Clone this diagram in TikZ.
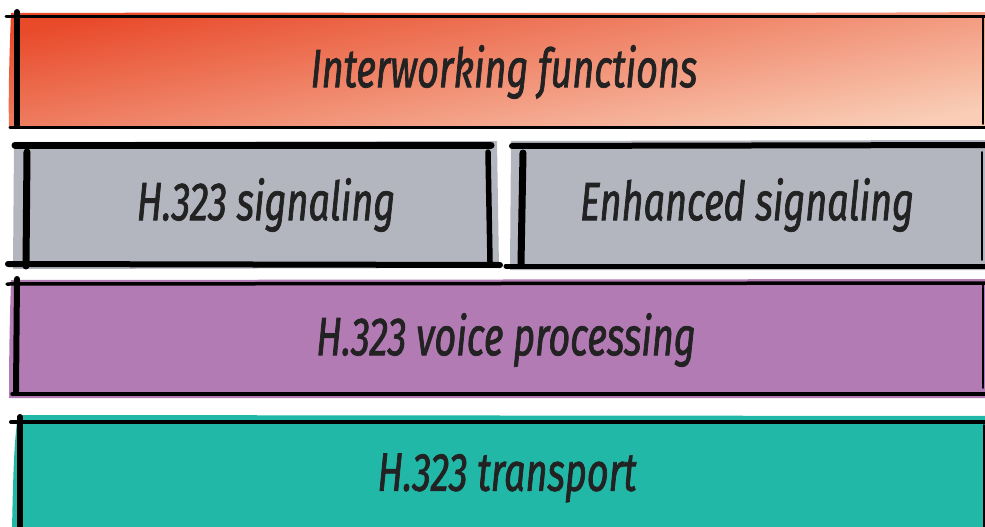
\documentclass[tikz,border=0pt]{standalone}
\usepackage{fontspec}
\setmainfont{Fira Sans}
\newfontfamily\handfont[FakeStretch=0.7,FakeBold=1.3]{Fira Sans}
\definecolor{inkc}{HTML}{222222}
\definecolor{orangeA}{HTML}{E84A2A}
\definecolor{orangeB}{HTML}{F9CDB6}
\definecolor{grayfill}{HTML}{B4B6BF}
\definecolor{purplefill}{HTML}{B27BB4}
\definecolor{tealfill}{HTML}{22B8A8}
\begin{document}
\begin{tikzpicture}[x=1pt,y=-1pt,
  lab/.style={font=\handfont\itshape\fontsize{54}{58}\selectfont, text=inkc, inner sep=0pt},
  ink/.style={draw=black, line cap=round, line join=round},
  thin/.style={ink, line width=3pt},
  thick/.style={ink, line width=6pt},
  hair/.style={ink, line width=1.8pt}]
\useasboundingbox (0,0) rectangle (985,527);

% ---- layer 1: interworking functions (gradient band)
\shade[top color=orangeA, bottom color=orangeB, shading angle=10]
  (11,13) .. controls (300,12) and (700,14) .. (990,12) -- (990,128)
  -- (9,129) .. controls (8,90) and (10,40) .. (11,13) -- cycle;
\draw[thin] (6,17) -- (990,17);
\draw[thin] (10,127) -- (990,127);
\draw[thick] (17,12) -- (17,125);
\draw[hair] (983,16) -- (983,124);

% ---- layer 2: two signaling boxes
\fill[grayfill] (14,142) -- (497,141) -- (499,268) -- (13,269) -- cycle;
\draw[ink, line width=7pt] (15,145) -- (491,145);
\draw[ink, line width=6pt] (8,264) -- (500,265);
\draw[ink, line width=7pt] (27,152) -- (26,266);
\draw[ink, line width=5.5pt] (488,152) -- (490,262);

\fill[grayfill] (511,141) -- (990,140) -- (990,270) -- (510,270) -- cycle;
\draw[ink, line width=6pt] (512,146) -- (990,145);
\draw[ink, line width=5pt] (506,266) -- (990,266);
\draw[ink, line width=7pt] (523,153) -- (521,264);
\draw[hair] (982,152) -- (982,260);

% ---- layer 3: voice processing
\fill[purplefill] (11,280) -- (990,279) -- (990,398) -- (9,398)
  .. controls (9,350) and (10,310) .. (11,280) -- cycle;
\draw[ink, line width=3.5pt] (7,284) -- (990,283);
\draw[ink, line width=3.5pt] (12,394) -- (990,394);
\draw[thick] (17,279) -- (16,391);
\draw[hair] (983,284) -- (983,388);

% ---- layer 4: transport
\fill[tealfill] (18,415) -- (990,416) -- (990,530) -- (12,530)
  .. controls (13,480) and (14,440) .. (18,415) -- cycle;
\draw[ink, line width=4pt] (11,422) -- (990,422);
\draw[thick] (20,417) -- (20,530);
\draw[hair] (984,425) -- (984,530);

% ---- labels
\node[lab] (interworking) at (504,72) {Interworking functions};
\node[lab] (hsig) at (266,205) {H.323 signaling};
\node[lab] (esig) at (747,205) {Enhanced signaling};
\node[lab] (voice) at (506,340) {H.323 voice processing};
\node[lab] (transport) at (507,478) {H.323 transport};
\end{tikzpicture}
\end{document}
